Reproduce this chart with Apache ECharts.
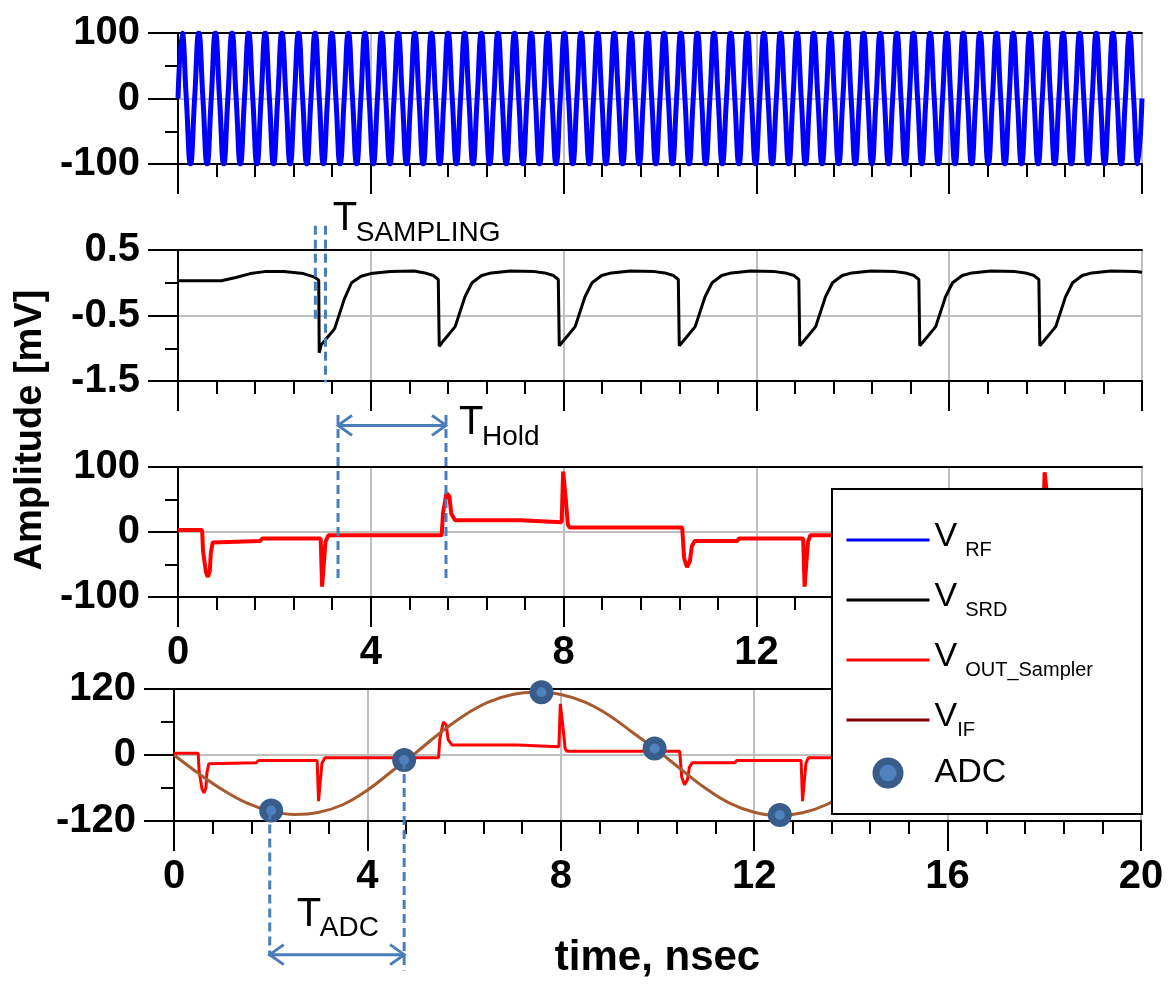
<!DOCTYPE html>
<html lang="en">
<head>
  <meta charset="utf-8" />
  <title>Sampler timing</title>
  <script src="https://cdn.jsdelivr.net/npm/echarts@6/dist/echarts.min.js"></script>
  <style>html, body { margin: 0; padding: 0; background: #fff; }</style>
</head>
<body>
  <div id="main" style="width: 1176px;height:984px;"></div>
  <script>
    var FONT = '"Liberation Sans", Arial, sans-serif';

    // V_RF: 58 cycles in 20 ns, one sample every quarter period
    var rfStep = 20 / 232;
    var rfValues = [
      0, 100, 0, -100, 0, 100, 0, -100, 0, 100, 0, -100, 0, 100, 0, -100, 0, 100, 0, -100, 0, 100, 0, -100, 0, 100, 0, -100, 0, 100, 0, -100,
      0, 100, 0, -100, 0, 100, 0, -100, 0, 100, 0, -100, 0, 100, 0, -100, 0, 100, 0, -100, 0, 100, 0, -100, 0, 100, 0, -100, 0, 100, 0, -100,
      0, 100, 0, -100, 0, 100, 0, -100, 0, 100, 0, -100, 0, 100, 0, -100, 0, 100, 0, -100, 0, 100, 0, -100, 0, 100, 0, -100, 0, 100, 0, -100,
      0, 100, 0, -100, 0, 100, 0, -100, 0, 100, 0, -100, 0, 100, 0, -100, 0, 100, 0, -100, 0, 100, 0, -100, 0, 100, 0, -100, 0, 100, 0, -100,
      0, 100, 0, -100, 0, 100, 0, -100, 0, 100, 0, -100, 0, 100, 0, -100, 0, 100, 0, -100, 0, 100, 0, -100, 0, 100, 0, -100, 0, 100, 0, -100,
      0, 100, 0, -100, 0, 100, 0, -100, 0, 100, 0, -100, 0, 100, 0, -100, 0, 100, 0, -100, 0, 100, 0, -100, 0, 100, 0, -100, 0, 100, 0, -100,
      0, 100, 0, -100, 0, 100, 0, -100, 0, 100, 0, -100, 0, 100, 0, -100, 0, 100, 0, -100, 0, 100, 0, -100, 0, 100, 0, -100, 0, 100, 0, -100,
      0, 100, 0, -100, 0, 100, 0, -100,
      0
    ];

    // V_SRD (panel 2)
    var srdTime = [
      0, 0.9, 1.2, 1.5, 1.8, 2.2, 2.6, 2.82, 2.92, 2.93, 2.97, 3.25, 3.45, 3.6, 3.8, 4.0, 4.4, 4.9,
      5.12, 5.30, 5.40, 5.42, 5.47, 5.75, 5.95, 6.10, 6.30, 6.50, 6.90, 7.40,
      7.61, 7.79, 7.89, 7.91, 7.96, 8.24, 8.44, 8.59, 8.79, 8.99, 9.39, 9.89,
      10.10, 10.28, 10.38, 10.40, 10.45, 10.73, 10.93, 11.08, 11.28, 11.48, 11.88, 12.38,
      12.60, 12.78, 12.88, 12.90, 12.95, 13.23, 13.43, 13.58, 13.78, 13.98, 14.38, 14.88,
      15.09, 15.27, 15.37, 15.39, 15.44, 15.72, 15.92, 16.07, 16.27, 16.47, 16.87, 17.37,
      17.58, 17.76, 17.86, 17.88, 17.93, 18.21, 18.41, 18.56, 18.76, 18.96, 19.36, 19.86, 20
    ];
    var srdValue = [
      0.03, 0.03, 0.08, 0.14, 0.17, 0.17, 0.14, 0.09, 0.04, -1.07, -0.95, -0.70, -0.25, 0.0, 0.10, 0.14, 0.17, 0.18,
      0.15, 0.11, 0.05, -0.97, -0.92, -0.67, -0.22, 0.0, 0.11, 0.15, 0.18, 0.17,
      0.15, 0.11, 0.05, -0.96, -0.92, -0.67, -0.22, 0.0, 0.11, 0.15, 0.18, 0.17,
      0.15, 0.11, 0.05, -0.96, -0.92, -0.67, -0.22, 0.0, 0.11, 0.15, 0.18, 0.17,
      0.15, 0.11, 0.05, -0.96, -0.92, -0.67, -0.22, 0.0, 0.11, 0.15, 0.18, 0.17,
      0.15, 0.11, 0.05, -0.96, -0.92, -0.67, -0.22, 0.0, 0.11, 0.15, 0.18, 0.17,
      0.15, 0.11, 0.05, -0.96, -0.92, -0.67, -0.22, 0.0, 0.11, 0.15, 0.18, 0.17, 0.16
    ];

    // V_OUT_Sampler (panels 3 and 4)
    var outTime = [
      0, 0.50, 0.52, 0.58, 0.62, 0.66, 0.68, 0.72, 1.70, 1.75, 2.96, 2.99, 3.03, 3.06, 3.12,
      5.47, 5.50, 5.57, 5.63, 5.67, 5.75, 7.10, 7.14, 7.96, 7.99, 8.04, 8.09, 8.13,
      10.46, 10.50, 10.56, 10.62, 10.66, 10.72, 11.60, 11.64, 12.97, 13.00, 13.04, 13.07, 13.12,
      15.46, 15.50, 15.56, 15.62, 15.66, 15.74, 17.10, 17.14, 17.95, 17.98, 18.03, 18.08, 18.12, 20
    ];
    var outValue = [
      3, 3, -30, -62, -69, -60, -33, -16, -14, -10, -10, -84, -44, -15, -5,
      -5, 30, 60, 55, 28, 18, 18, 15, 15, 93, 55, 11, 7,
      7, -40, -54, -45, -22, -14, -14, -10, -10, -84, -44, -15, -5,
      -5, 30, 60, 55, 28, 18, 18, 15, 15, 92, 55, 11, 7, 7
    ];

    // V_IF (panel 4)
    var ifTime = [
      0, 0.5, 1, 1.5, 2, 2.5, 3, 3.5, 4, 4.5, 5, 5.5, 6, 6.5, 7, 7.5, 8, 8.5, 9, 9.5,
      10, 10.5, 11, 11.5, 12, 12.5, 13, 13.5, 14, 14.5, 15, 15.5, 16, 16.5, 17, 17.5, 18, 18.5, 19, 19.5, 20
    ];
    var ifValue = [
      0, -33, -63, -87, -102, -108, -104, -90, -64, -30, 4, 40, 72, 96, 110, 114, 110, 96, 72, 40,
      8, -27, -61, -88, -104, -110, -105, -90, -63, -30, 3, 38, 70, 95, 109, 113, 109, 95, 70, 38, 3
    ];

    // ADC samples
    var adcTime = [2.01, 4.76, 7.6, 9.94, 12.53];
    var adcValue = [-101, -9, 114, 12, -109];

    // axes
    var xTickLabels = [0, 4, 8, 12, 16, 20];
    var yMin = [-100, -1.5, -100, -120];
    var yMax = [100, 0.5, 100, 120];
    var yStep = [100, 0.5, 100, 120];
    var srdTickValues = [-1.5, -0.5, 0.5];

    // annotations, in data units of each panel
    var guideLines = [ // [panel, t, vFrom, vTo]
      [1, 2.85, 0.87, -0.57], [1, 3.06, 0.87, -1.52],
      [2, 3.32, 180, -79], [2, 5.56, 180, -79],
      [3, 1.98, -101, -366], [3, 4.76, -9, -392]
    ];
    var spanArrows = [ // [panel, t1, t2, v]
      [2, 3.32, 5.56, 164], [3, 1.98, 4.76, -363]
    ];
    var spanLabels = [ // [panel, t, v, subscript]
      [1, 3.21, 0.97, 'SAMPLING'], [2, 5.83, 168, 'Hold'], [3, 2.54, -290, 'ADC']
    ];

    function zip(a, b) { return a.map(function (t, i) { return [t, b[i]]; }); }

    var grids = [
      { left: 178, top: 33, width: 964, height: 131 },
      { left: 178, top: 250, width: 964, height: 131 },
      { left: 178, top: 467, width: 964, height: 130 },
      { left: 174, top: 689, width: 967, height: 132 }
    ];

    var black = { color: '#000', width: 2 };
    var labelStyle = { color: '#000', fontSize: 40, fontWeight: 'bold', fontFamily: FONT };

    var xAxes = [];
    var yAxes = [];
    for (var i = 0; i < 4; i++) {
      xAxes.push({
        gridIndex: i, type: 'value', min: 0, max: 20, interval: 4, position: 'bottom',
        axisLine: { show: true, onZero: false, lineStyle: black },
        axisTick: { show: true, length: 30, lineStyle: black },
        minorTick: { show: true, splitNumber: 5, length: 13, lineStyle: black },
        splitLine: { show: true, lineStyle: { color: '#bfbfbf', width: 2 } },
        axisLabel: Object.assign({
          show: i >= 2, margin: 36,
          formatter: function (v) { return xTickLabels.indexOf(v) >= 0 ? String(v) : ''; }
        }, labelStyle),
        name: i === 3 ? 'time, nsec' : '',
        nameLocation: 'middle', nameGap: 116,
        nameTextStyle: { color: '#000', fontSize: 42, fontWeight: 'bold', fontFamily: FONT }
      });
      var y = {
        gridIndex: i, type: 'value', min: yMin[i], max: yMax[i], interval: yStep[i],
        axisLine: { show: true, onZero: false, lineStyle: black },
        axisTick: { show: true, length: 30, lineStyle: black },
        minorTick: { show: true, splitNumber: 2, length: 13, lineStyle: black },
        splitLine: { show: true, lineStyle: { color: '#bfbfbf', width: 2 } },
        axisLabel: Object.assign({ margin: 38 }, labelStyle)
      };
      if (i === 1) {
        y.axisTick.customValues = srdTickValues;
        y.axisLabel.customValues = srdTickValues;
        y.minorTick = { show: false };
      }
      yAxes.push(y);
    }
    // panel 3: labels beyond 12 sit under the legend
    xAxes[2].axisLabel.formatter = function (v) { return v <= 12 ? String(v) : ''; };
    // top border of each panel
    for (var j = 0; j < 4; j++) {
      xAxes.push({
        gridIndex: j, type: 'value', min: 0, max: 20, position: 'top',
        axisLine: { show: true, onZero: false, lineStyle: black },
        axisTick: { show: false }, axisLabel: { show: false }, splitLine: { show: false }
      });
    }
    // short ticks of panel 2
    yAxes.push({
      gridIndex: 1, type: 'value', min: -1.5, max: 0.5, interval: 0.5, position: 'left',
      axisLine: { show: false, onZero: false },
      axisTick: { show: true, length: 13, lineStyle: black },
      axisLabel: { show: false }, splitLine: { show: false }
    });

    var subRich = {
      v: { fontSize: 34, lineHeight: 40, verticalAlign: 'top', fontFamily: FONT, color: '#000' },
      s: { fontSize: 20, lineHeight: 20, padding: [24, 0, 0, 8], verticalAlign: 'bottom', fontFamily: FONT, color: '#000' },
      si: { fontSize: 20, lineHeight: 20, padding: [24, 0, 0, 0], verticalAlign: 'bottom', fontFamily: FONT, color: '#000' },
      a: { fontSize: 34, lineHeight: 44, fontFamily: FONT, color: '#000' }
    };
    var legendText = {
      'V_RF': '{v|V}{s|RF}',
      'V_SRD': '{v|V}{s|SRD}',
      'V_OUT_Sampler': '{v|V}{s|OUT_Sampler}',
      'V_IF': '{v|V}{si|IF}',
      'ADC': '{a|ADC}'
    };
    var noSymbol = { color: 'rgba(0,0,0,0)', borderWidth: 0 };
    var adcStyle = { color: '#4f81bd', borderColor: '#385d8a', borderWidth: 7, opacity: 1 };

    var option = {
      animation: false,
      backgroundColor: '#fff',
      textStyle: { fontFamily: FONT },
      grid: grids,
      xAxis: xAxes,
      yAxis: yAxes,
      legend: {
        left: 845, top: 516, orient: 'vertical', padding: 0, zlevel: 1, z: 4,
        itemWidth: 83, itemHeight: 24, itemGap: 16, selectedMode: false,
        lineStyle: { width: 3 },
        data: [
          { name: 'V_RF', itemStyle: noSymbol },
          { name: 'V_SRD', itemStyle: noSymbol },
          { name: 'V_OUT_Sampler', itemStyle: noSymbol },
          { name: 'V_IF', itemStyle: noSymbol, lineStyle: { color: '#7f0000', width: 3 } },
          { name: 'ADC', itemStyle: adcStyle }
        ],
        formatter: function (name) { return legendText[name]; },
        textStyle: { rich: subRich }
      },
      series: [
        {
          name: 'V_RF', type: 'line', xAxisIndex: 0, yAxisIndex: 0, symbol: 'none', smooth: 0.5,
          lineStyle: { color: '#0000ff', width: 5 }, itemStyle: { color: '#0000ff' },
          data: rfValues.map(function (v, k) { return [k * rfStep, v]; })
        },
        {
          name: 'V_SRD', type: 'line', xAxisIndex: 1, yAxisIndex: 1, symbol: 'none',
          lineStyle: { color: '#000', width: 3 }, itemStyle: { color: '#000' },
          data: zip(srdTime, srdValue)
        },
        {
          name: 'V_OUT_Sampler', type: 'line', xAxisIndex: 2, yAxisIndex: 2, symbol: 'none',
          lineStyle: { color: '#ff0000', width: 4 }, itemStyle: { color: '#ff0000' },
          data: zip(outTime, outValue)
        },
        {
          name: 'V_OUT_Sampler', type: 'line', xAxisIndex: 3, yAxisIndex: 3, symbol: 'none',
          lineStyle: { color: '#ff0000', width: 3 }, itemStyle: { color: '#ff0000' },
          data: zip(outTime, outValue)
        },
        {
          name: 'V_IF', type: 'line', xAxisIndex: 3, yAxisIndex: 3, symbol: 'none', smooth: 0.4,
          lineStyle: { color: '#a65a2e', width: 3 }, itemStyle: { color: '#a65a2e' },
          data: zip(ifTime, ifValue)
        },
        {
          name: 'ADC', type: 'scatter', xAxisIndex: 3, yAxisIndex: 3, clip: false, z: 5,
          symbol: 'circle', symbolSize: 17, itemStyle: adcStyle,
          data: zip(adcTime, adcValue)
        }
      ]
    };

    var chart = echarts.init(document.getElementById('main'));
    chart.setOption(option);

    function pt(p, t, v) {
      return chart.convertToPixel({ xAxisIndex: p, yAxisIndex: p }, [t, v]);
    }
    var guideStyle = { stroke: '#4a7ebb', lineWidth: 3, lineDash: [9, 5] };
    var arrowStyle = { stroke: '#4a7ebb', lineWidth: 3, fill: null };
    var els = [
      {
        type: 'rect', zlevel: 1, z: 3,
        shape: { x: 832, y: 489, width: 310, height: 325 },
        style: { fill: '#fff', stroke: '#000', lineWidth: 2 }
      },
      {
        type: 'text', z: 5, x: 31, y: 430, rotation: Math.PI / 2,
        style: {
          text: 'Amplitude [mV]', fill: '#000', fontSize: 38, fontWeight: 'bold',
          fontFamily: FONT, align: 'center', verticalAlign: 'middle'
        }
      }
    ];
    guideLines.forEach(function (g) {
      var a = pt(g[0], g[1], g[2]);
      var b = pt(g[0], g[1], g[3]);
      els.push({ type: 'line', z: 6, shape: { x1: a[0], y1: a[1], x2: b[0], y2: b[1] }, style: guideStyle });
    });
    spanArrows.forEach(function (s) {
      var a = pt(s[0], s[1], s[3]);
      var b = pt(s[0], s[2], s[3]);
      els.push({ type: 'line', z: 6, shape: { x1: a[0], y1: a[1], x2: b[0], y2: b[1] }, style: arrowStyle });
      els.push({ type: 'polyline', z: 6, shape: { points: [[a[0] + 14, a[1] - 10], a, [a[0] + 14, a[1] + 10]] }, style: arrowStyle });
      els.push({ type: 'polyline', z: 6, shape: { points: [[b[0] - 14, b[1] - 10], b, [b[0] - 14, b[1] + 10]] }, style: arrowStyle });
    });
    spanLabels.forEach(function (l) {
      var p = pt(l[0], l[1], l[2]);
      els.push({
        type: 'text', z: 6, x: p[0], y: p[1],
        style: { text: 'T', fill: '#000', fontSize: 40, fontFamily: FONT, align: 'left', verticalAlign: 'middle' }
      });
      els.push({
        type: 'text', z: 6, x: p[0] + 23, y: p[1] + 14,
        style: { text: l[3], fill: '#000', fontSize: 28, fontFamily: FONT, align: 'left', verticalAlign: 'middle' }
      });
    });
    chart.setOption({ graphic: els });
  </script>
</body>
</html>
